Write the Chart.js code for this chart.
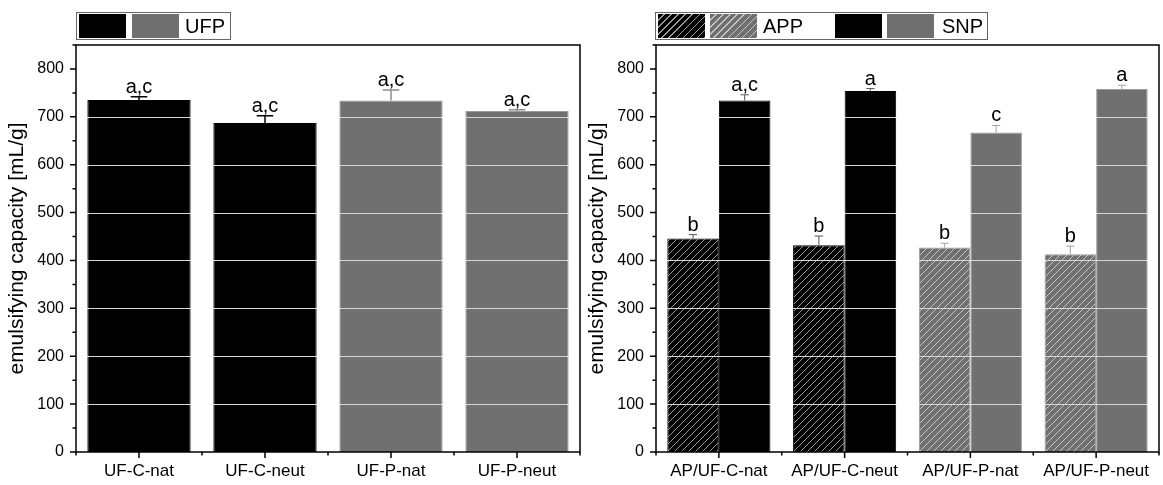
<!DOCTYPE html>
<html lang="en">
<head>
<meta charset="UTF-8">
<title>Emulsifying capacity</title>
<script src="https://cdn.jsdelivr.net/npm/chart.js"></script>
<style>
    body { margin: 0; background: #fff; font-family: "Liberation Sans", Arial, sans-serif; }
    .wrap { position: relative; width: 1163px; height: 485px; }
    canvas { position: absolute; top: 0; }
    #left { left: 0; }
    #right { left: 580px; }
    .legend { position: absolute; top: 12px; height: 28px; border: 1px solid #666; box-sizing: border-box; }
    .sw { position: absolute; top: 14px; width: 47px; height: 24px; }
    .lab { position: absolute; top: 13px; font-size: 20px; line-height: 26px; color: #000; }
    .solid-k { background: #000; }
    .solid-g { background: #707070; }
    .hatch-k { background: repeating-linear-gradient(135deg, #000 0 4px, #9a9a9a 4px 5px); }
    .hatch-g { background: repeating-linear-gradient(135deg, #707070 0 4px, #c4c4c4 4px 5px); }
</style>
</head>
<body>
<div class="wrap">
    <canvas id="left" width="585" height="485"></canvas>
    <canvas id="right" width="583" height="485"></canvas>

    <div class="legend" style="left:76px; width:155px;"></div>
    <div class="sw solid-k" style="left:79px;"></div>
    <div class="sw solid-g" style="left:132px;"></div>
    <div class="lab" style="left:185px;">UFP</div>

    <div class="legend" style="left:655px; width:333px;"></div>
    <div class="sw hatch-k" style="left:658px;"></div>
    <div class="sw hatch-g" style="left:710px;"></div>
    <div class="lab" style="left:763px;">APP</div>
    <div class="sw solid-k" style="left:835px;"></div>
    <div class="sw solid-g" style="left:887px;"></div>
    <div class="lab" style="left:942px;">SNP</div>
</div>

<script>
    const ufpLabels = ['UF-C-nat', 'UF-C-neut', 'UF-P-nat', 'UF-P-neut'];
    const ufpValues = [735, 687, 734, 712];
    const ufpErrors = [7, 15, 22, 3];
    const ufpLetters = ['a,c', 'a,c', 'a,c', 'a,c'];

    const mixLabels = ['AP/UF-C-nat', 'AP/UF-C-neut', 'AP/UF-P-nat', 'AP/UF-P-neut'];
    const appValues = [446, 432, 427, 413];
    const appErrors = [8, 19, 9, 17];
    const appLetters = ['b', 'b', 'b', 'b'];
    const snpValues = [734, 754, 667, 758];
    const snpErrors = [12, 5, 15, 8];
    const snpLetters = ['a,c', 'a', 'c', 'a'];

    const yTicks = [0, 100, 200, 300, 400, 500, 600, 700, 800];
    const yMax = 850;

    const BLACK = '#000000';
    const GRAY = '#707070';
    const FONT = '"Liberation Sans", Arial, sans-serif';

    // padrão hachurado "/" usado nas barras APP
    function hachura(base, linha) {
        const s = 7;
        const c = document.createElement('canvas');
        c.width = s; c.height = s;
        const g = c.getContext('2d');
        g.fillStyle = base;
        g.fillRect(0, 0, s, s);
        g.strokeStyle = linha;
        g.lineWidth = 1;
        g.beginPath();
        g.moveTo(0, s); g.lineTo(s, 0);
        g.moveTo(-1, 1); g.lineTo(1, -1);
        g.moveTo(s - 1, s + 1); g.lineTo(s + 1, s - 1);
        g.stroke();
        return g.createPattern(c, 'repeat');
    }

    const hatchK = hachura(BLACK, '#9a9a9a');
    const hatchG = hachura(GRAY, '#c4c4c4');

    // grade clara por cima das barras, barras de erro, letras, moldura e ticks
    const extras = {
        id: 'extras',
        afterDatasetsDraw(chart) {
            const ctx = chart.ctx;
            const a = chart.chartArea;
            const x = chart.scales.x;
            const y = chart.scales.y;

            ctx.save();
            ctx.beginPath();
            ctx.rect(a.left, a.top, a.right - a.left, a.bottom - a.top);
            ctx.clip();
            ctx.globalCompositeOperation = 'source-atop';
            ctx.strokeStyle = '#d6d6d6';
            ctx.lineWidth = 1;
            yTicks.forEach(v => {
                if (v === 0) return;
                const py = Math.round(y.getPixelForValue(v)) + 0.5;
                ctx.beginPath();
                ctx.moveTo(a.left, py);
                ctx.lineTo(a.right, py);
                ctx.stroke();
            });
            ctx.restore();

            ctx.save();
            chart.data.datasets.forEach((ds, di) => {
                const meta = chart.getDatasetMeta(di);
                meta.data.forEach((bar, i) => {
                    const topo = y.getPixelForValue(ds.data[i] + ds.errors[i]);
                    const cap = bar.width * 0.16;
                    ctx.strokeStyle = ds.errorColor[i];
                    ctx.lineWidth = bar.width > 80 ? 1.5 : 1;
                    ctx.beginPath();
                    ctx.moveTo(bar.x, bar.y);
                    ctx.lineTo(bar.x, topo);
                    ctx.moveTo(bar.x - cap / 2, topo);
                    ctx.lineTo(bar.x + cap / 2, topo);
                    ctx.stroke();

                    ctx.fillStyle = '#000';
                    ctx.font = '20px ' + FONT;
                    ctx.textAlign = 'center';
                    ctx.textBaseline = 'alphabetic';
                    ctx.fillText(ds.letters[i], bar.x, topo - 4);
                });
            });

            ctx.strokeStyle = '#000';
            ctx.lineWidth = 1.5;
            ctx.strokeRect(a.left, a.top, a.right - a.left, a.bottom - a.top);

            ctx.lineWidth = 1.5;
            ctx.beginPath();
            for (let v = 0; v <= yMax; v += 50) {
                const py = y.getPixelForValue(v);
                const len = v % 100 === 0 ? 6 : 3.5;
                ctx.moveTo(a.left - len, py);
                ctx.lineTo(a.left, py);
            }
            const n = chart.data.labels.length;
            for (let i = 0; i < n; i++) {
                const px = x.getPixelForValue(i);
                ctx.moveTo(px, a.bottom);
                ctx.lineTo(px, a.bottom + 6);
            }
            for (let i = 0; i <= n; i++) {
                const px = x.getPixelForValue(i - 0.5);
                ctx.moveTo(px, a.bottom);
                ctx.lineTo(px, a.bottom + 3.5);
            }
            ctx.stroke();
            ctx.restore();
        }
    };

    function opcoes(padRight) {
        return {
            responsive: false,
            animation: false,
            layout: { padding: { top: 45, right: padRight, left: 0, bottom: 0 } },
            plugins: { legend: { display: false }, tooltip: { enabled: false } },
            scales: {
                x: {
                    offset: true,
                    grid: { display: false, drawTicks: false },
                    border: { display: false },
                    ticks: { color: '#000', padding: 9, font: { family: FONT, size: 17 }, maxRotation: 0 },
                    afterFit(scale) { scale.height = 33; }
                },
                y: {
                    min: 0,
                    max: yMax,
                    grid: { display: false, drawTicks: false },
                    border: { display: false },
                    afterBuildTicks(scale) { scale.ticks = yTicks.map(v => ({ value: v })); },
                    ticks: { color: '#000', padding: 12, font: { family: FONT, size: 16 } },
                    title: {
                        display: true,
                        text: 'emulsifying capacity [mL/g]',
                        color: '#000',
                        font: { family: FONT, size: 21 },
                        padding: { top: 5, bottom: 0 }
                    },
                    afterFit(scale) { scale.width = 76; }
                }
            }
        };
    }

    new Chart(document.getElementById('left'), {
        type: 'bar',
        data: {
            labels: ufpLabels,
            datasets: [{
                label: 'UFP',
                data: ufpValues,
                errors: ufpErrors,
                letters: ufpLetters,
                errorColor: [BLACK, BLACK, '#8c8c8c', '#8c8c8c'],
                backgroundColor: [BLACK, BLACK, GRAY, GRAY],
                borderColor: [BLACK, BLACK, '#9a9a9a', '#9a9a9a'],
                borderWidth: 1,
                categoryPercentage: 0.82,
                barPercentage: 1
            }]
        },
        options: opcoes(5),
        plugins: [extras]
    });

    new Chart(document.getElementById('right'), {
        type: 'bar',
        data: {
            labels: mixLabels,
            datasets: [{
                label: 'APP',
                data: appValues,
                errors: appErrors,
                letters: appLetters,
                errorColor: ['#555', '#555', '#a0a0a0', '#a0a0a0'],
                backgroundColor: [hatchK, hatchK, hatchG, hatchG],
                borderColor: [BLACK, BLACK, '#9a9a9a', '#9a9a9a'],
                borderWidth: 1,
                categoryPercentage: 0.82,
                barPercentage: 1
            }, {
                label: 'SNP',
                data: snpValues,
                errors: snpErrors,
                letters: snpLetters,
                errorColor: ['#555', '#555', '#a0a0a0', '#a0a0a0'],
                backgroundColor: [BLACK, BLACK, GRAY, GRAY],
                borderColor: [BLACK, BLACK, '#9a9a9a', '#9a9a9a'],
                borderWidth: 1,
                categoryPercentage: 0.82,
                barPercentage: 1
            }]
        },
        options: opcoes(4),
        plugins: [extras]
    });
</script>
</body>
</html>
